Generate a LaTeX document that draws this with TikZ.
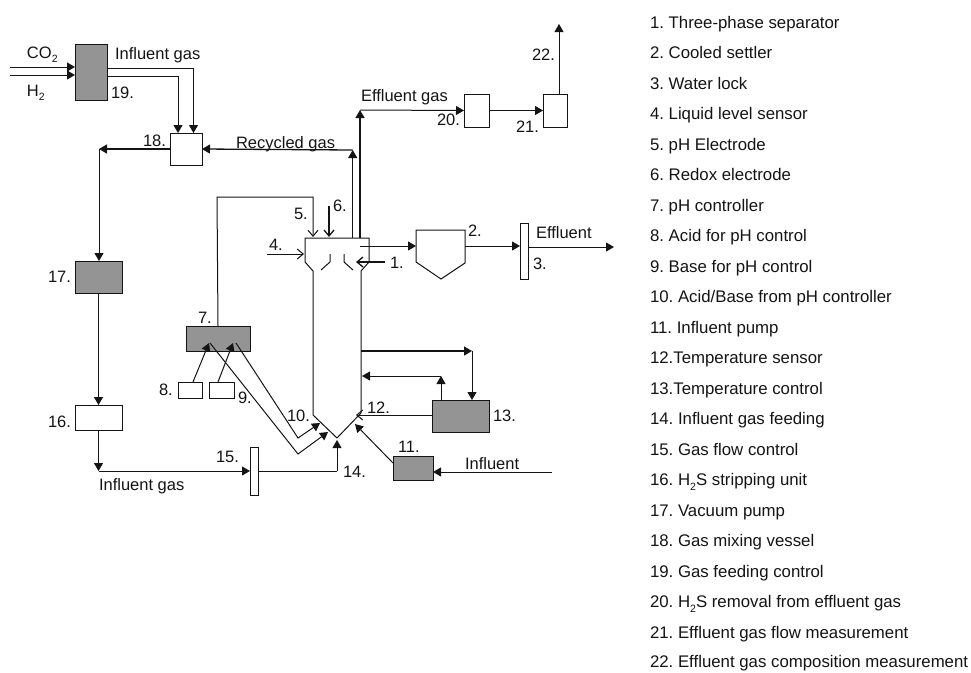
\documentclass[tikz,border=0pt]{standalone}
\usepackage{fontspec}
\setmainfont{Liberation Sans}
\usetikzlibrary{arrows.meta}
\definecolor{ink}{gray}{0.08}
\newcommand{\lowtwo}{\raisebox{-.3em}{\fontsize{10.5}{10.5}\selectfont 2}}
\frenchspacing
\tikzset{
  box/.style={draw=ink,line width=1pt,fill=white,inner sep=0pt,outer sep=0pt},
  shade/.style={box,fill=black!42},
  lab/.style={anchor=base west,inner sep=0pt,outer sep=0pt,font=\fontsize{16.5}{18}\selectfont,text=ink},
  leg/.style={anchor=base west,inner sep=0pt,outer sep=0pt,font=\fontsize{16.8}{18}\selectfont,text=ink},
  fl/.style={draw=ink,line width=1pt,-{Triangle[length=8pt,width=9pt]}},
  th/.style={draw=ink,line width=1.3pt,-{Triangle[length=8pt,width=9pt]}},
  op/.style={draw=ink,line width=1pt,-{Straight Barb[length=6pt,width=10pt]}},
  pl/.style={draw=ink,line width=1pt},
}
\begin{document}
\begin{tikzpicture}[x=1pt,y=-1pt]
\useasboundingbox (0,0) rectangle (971,672);
% free ends
\coordinate (inCO) at (10,67);
\coordinate (inH) at (10,75);
\coordinate (topout) at (559,24);
\coordinate (effout) at (614,247);
\coordinate (infl) at (552,472);
% reactor points
\coordinate (rTL) at (305,238);\coordinate (rTR) at (369,238);
\coordinate (rL1) at (305,262);\coordinate (rL2) at (313,271);
\coordinate (rL3) at (313,415);\coordinate (rB) at (337,438);
\coordinate (rR3) at (361,413);\coordinate (rR2) at (361,271);
\coordinate (rR1) at (369,262);
\coordinate (rg) at (352.7,238);\coordinate (eg) at (360,238);
\coordinate (rgT) at (352.7,150);\coordinate (egT) at (360,110);
\coordinate (r5) at (313,237);\coordinate (r5s) at (329,206);\coordinate (r6) at (329,237);
\coordinate (r4s) at (267,254);\coordinate (r4) at (304,254);
\coordinate (r1s) at (385,262);\coordinate (r1) at (356,262);
\coordinate (rOut) at (360,246);
\coordinate (r12) at (356,415);
\coordinate (r13o) at (361,351);\coordinate (r13i) at (362,376);
\coordinate (r11) at (355,424);
\coordinate (r10a) at (320,423);\coordinate (r10b) at (328,432);
\coordinate (k1) at (298,438);\coordinate (k2) at (298,454);
\coordinate (r14) at (337,440);
\coordinate (c5) at (217,197);\coordinate (c5b) at (313,197);
% boxes
\node[shade,minimum width=32pt,minimum height=56pt] (b19) at (91,72) {};
\node[box,minimum width=32pt,minimum height=32pt] (b18) at (186,149) {};
\node[shade,minimum width=47pt,minimum height=32pt] (b17) at (98.5,277) {};
\node[box,minimum width=47pt,minimum height=25pt] (b16) at (98.5,417.5) {};
\node[box,minimum width=8pt,minimum height=48pt] (b15) at (254,471) {};
\node[shade,minimum width=64pt,minimum height=25pt] (b7) at (218,338.5) {};
\node[box,minimum width=24pt,minimum height=16pt] (b8) at (190,390) {};
\node[box,minimum width=25pt,minimum height=16pt] (b9) at (221.5,390) {};
\node[shade,minimum width=40pt,minimum height=24pt] (b11) at (413,468) {};
\node[shade,minimum width=57pt,minimum height=32pt] (b13) at (460.5,416) {};
\node[box,minimum width=25pt,minimum height=33pt] (b20) at (476.5,110.5) {};
\node[box,minimum width=24pt,minimum height=33pt] (b21) at (555,110.5) {};
\node[box,minimum width=8pt,minimum height=56pt] (b3) at (524,251) {};
% reactor
\draw[pl] (rL3) -- (rL2) -- (rL1) -- (rTL) -- (rTR) -- (rR1) -- (rR2) -- (rR3) -- (rB) -- cycle;
\draw[pl] (330,254) -- (330,262) -- (321,270);
\draw[pl] (344,254) -- (344,262) -- (353,270);
% settler
\draw[pl] (416,230) coordinate (s1) -- (465,230) -- (465,263) -- (441,279) -- (416,262) -- cycle;
\coordinate (sL) at (416,246);\coordinate (sR) at (465,246);
% connectors
\draw[fl] (inCO) -- (b19.west |- inCO);
\draw[fl] (inH) -- (b19.west |- inH);
\coordinate (t1) at (193.5,68);\coordinate (t2) at (178,76);
\draw[fl] (b19.east |- t1) -- (t1) -- (t1 |- b18.north);
\draw[fl] (b19.east |- t2) -- (t2) -- (t2 |- b18.north);
\draw[th] (b18.west) -- (99,149) coordinate (lc);
\draw[fl] (lc) -- (lc |- b17.north);
\draw[fl] (b17.south) -- (b16.north);
\draw[fl] (b16.south) -- (b16.south |- b15.west);
\draw[fl] (b16.south |- b15.west) -- (b15.west);
\draw[pl] (b15.east) -- (r14 |- b15.east);
\draw[fl] (r14 |- b15.east) -- (r14);
\draw[th] (rgT) -- (b18.east);
\draw[th] (rg) -- (rgT);
\draw[th] (eg) -- (egT);
\draw[fl] (egT) -- (b20.west);
\draw[fl] (b20.east) -- (b21.west);
\draw[fl] (topout |- b21.north) -- (topout);
\draw[op] (b7.north) -- (c5) -- (c5b) -- (r5);
\draw[op,line width=1.3pt] (r5s) -- (r6);
\draw[op] (r4s) -- (r4);
\draw[op,line width=1.3pt] (r1s) -- (r1);
\draw[fl] (rOut) -- (sL);
\draw[fl] (sR) -- (b3.west |- sR);
\draw[fl] (b3.east |- effout) -- (effout);
\draw[fl] (193,382) -- (209,343);
\draw[fl] (218,382) -- (233,343);
\draw[fl] (210,343) -- (k2) -- (r10b);
\draw[fl] (236,343) -- (k1) -- (r10a);
\draw[op] (b13.west |- r12) -- (r12);
\draw[fl] (441,400) -- (441,376) coordinate (up13);
\draw[fl] (up13) -- (r13i);
\draw[th] (r13o) -- (472,351) coordinate (dn13);
\draw[fl] (dn13) -- (dn13 |- b13.north);
\draw[fl] (393,463) -- (r11);
\draw[fl] (infl) -- (b11.east |- infl);
% labels
\node[lab] (lCO) at (27,58) {CO\lowtwo};
\node[lab] (lH) at (27,96) {H\lowtwo};
\node[lab] (lIG) at (115,59) {Influent gas};
\node[lab] (n19) at (111,98) {19.};
\node[lab] (n18) at (143,146) {18.};
\node[lab] (lRG) at (236,148) {Recycled gas};
\node[lab] (lEG) at (361,101) {Effluent gas};
\node[lab] (n20) at (437,125) {20.};
\node[lab] (n21) at (516,132) {21.};
\node[lab] (n22) at (532,60) {22.};
\node[lab] (n5) at (294,219) {5.};
\node[lab] (n6) at (333,211) {6.};
\node[lab] (n4) at (269,250) {4.};
\node[lab] (n1) at (390,268) {1.};
\node[lab] (n2) at (468,236) {2.};
\node[lab] (n3) at (533,269) {3.};
\node[lab] (lE) at (536,238) {Effluent};
\node[lab] (n7) at (198,323) {7.};
\node[lab] (n8) at (159,395) {8.};
\node[lab] (n9) at (238,403) {9.};
\node[lab] (n10) at (287,421) {10.};
\node[lab] (n11) at (398,452) {11.};
\node[lab] (n12) at (367,413) {12.};
\node[lab] (n13) at (493,421) {13.};
\node[lab] (n14) at (343,477) {14.};
\node[lab] (n15) at (216,462) {15.};
\node[lab] (n16) at (48,427) {16.};
\node[lab] (n17) at (48,282) {17.};
\node[lab] (lIG2) at (99,490.5) {Influent gas};
\node[lab] (lI) at (465,469) {Influent};
% legend
\node[leg] (k01) at (650,28) {1. Three-phase separator};
\node[leg] (k02) at (650,58.5) {2. Cooled settler};
\node[leg] (k03) at (650,89) {3. Water lock};
\node[leg] (k04) at (650,119.5) {4. Liquid level sensor};
\node[leg] (k05) at (650,150) {5. pH Electrode};
\node[leg] (k06) at (650,180.5) {6. Redox electrode};
\node[leg] (k07) at (650,211) {7. pH controller};
\node[leg] (k08) at (650,241.5) {8. Acid for pH control};
\node[leg] (k09) at (650,272) {9. Base for pH control};
\node[leg] (k10) at (650,302.5) {10. Acid/Base from pH controller};
\node[leg] (k11) at (650,333) {11. Influent pump};
\node[leg] (k12) at (650,363.5) {12.Temperature sensor};
\node[leg] (k13) at (650,394) {13.Temperature control};
\node[leg] (k14) at (650,424.5) {14. Influent gas feeding};
\node[leg] (k15) at (650,455) {15. Gas flow control};
\node[leg] (k16) at (650,485.5) {16. H\lowtwo S stripping unit};
\node[leg] (k17) at (650,516) {17. Vacuum pump};
\node[leg] (k18) at (650,546.5) {18. Gas mixing vessel};
\node[leg] (k19) at (650,577) {19. Gas feeding control};
\node[leg] (k20) at (650,607.5) {20. H\lowtwo S removal from effluent gas};
\node[leg] (k21) at (650,638) {21. Effluent gas flow measurement};
\node[leg] (k22) at (650,667.5) {22. Effluent gas composition measurement};
\end{tikzpicture}
\end{document}
